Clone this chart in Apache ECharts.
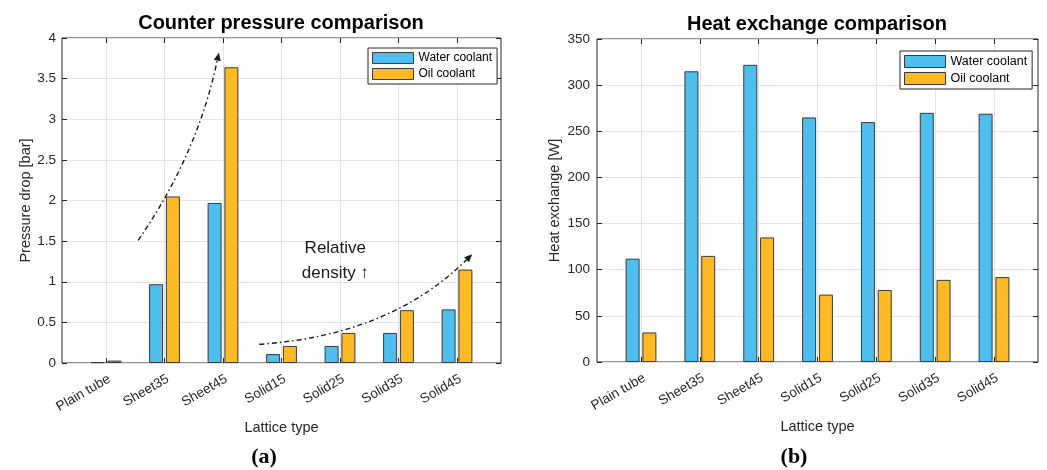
<!DOCTYPE html>
<html><head><meta charset="utf-8">
<script src="https://cdn.jsdelivr.net/npm/echarts@6/dist/echarts.min.js"></script>
<style>html,body{margin:0;padding:0;background:#fff}#c{width:1047px;height:470px}</style>
</head><body><div id="c"></div>
<script>
// ---- data ----
const categories = ['Plain tube', 'Sheet35', 'Sheet45', 'Solid15', 'Solid25', 'Solid35', 'Solid45'];
const seriesNames = ['Water coolant', 'Oil coolant'];
const pressureWater = [0.01, 0.97, 1.97, 0.11, 0.21, 0.37, 0.66];
const pressureOil = [0.03, 2.05, 3.64, 0.21, 0.37, 0.65, 1.15];
const heatWater = [112, 315, 322, 265, 260, 270, 269];
const heatOil = [32, 115, 135, 73, 78, 89, 92];
const pressureTicks = [0, 0.5, 1, 1.5, 2, 2.5, 3, 3.5, 4];
const heatTicks = [0, 50, 100, 150, 200, 250, 300, 350];
const titles = ['Counter pressure comparison', 'Heat exchange comparison'];
const panelLabels = ['(a)', '(b)'];
const yNames = ['Pressure drop [bar]', 'Heat exchange [W]'];
const xName = 'Lattice type';
const annotationText = ['Relative', 'density \u2191'];

// ---- style ----
const FONT = 'Liberation Sans, Arial, Helvetica, sans-serif';
const WATER = '#4DBEEE';
const OIL = '#FDBA24';
const EDGE = '#3a3a3a';
const AX = '#262626';
const GRIDC = '#e3e3e3';

const chart = echarts.init(document.getElementById('c'), null, {renderer: 'canvas'});

function panel(k, box, bars, ticks) {
  const xi = k * 3, yi = k * 3, gi = k * 2;
  const tmin = ticks[0], tmax = ticks[ticks.length - 1], step = ticks[1] - ticks[0];
  return {
    grids: [
      Object.assign({show: true, borderColor: AX, borderWidth: 1, backgroundColor: 'transparent'}, box),
      Object.assign({show: false}, bars)
    ],
    xAxes: [
      {gridIndex: gi, type: 'value', min: 0, max: 1, show: false},
      {gridIndex: gi + 1, type: 'value', min: 1, max: categories.length, interval: 1, position: 'bottom',
        axisLine: {show: false},
        axisTick: {show: true, inside: true, length: 5, lineStyle: {color: AX}},
        splitLine: {show: true, lineStyle: {color: GRIDC, width: 1}},
        axisLabel: {rotate: 30, margin: 9, verticalAlign: 'top', fontSize: 13.5, color: AX, fontFamily: FONT,
          formatter: v => categories[Math.round(v) - 1] || ''},
        name: xName, nameLocation: 'middle', nameGap: 57,
        nameTextStyle: {fontSize: 14.5, color: AX, fontFamily: FONT}},
      {gridIndex: gi + 1, type: 'value', min: 1, max: categories.length, interval: 1, position: 'top',
        axisLine: {show: false}, axisLabel: {show: false}, splitLine: {show: false},
        axisTick: {show: true, inside: true, length: 5, lineStyle: {color: AX}}}
    ],
    yAxes: [
      {gridIndex: gi, type: 'value', min: tmin, max: tmax, interval: step, position: 'left',
        axisLine: {show: false},
        axisTick: {show: true, inside: true, length: 5, lineStyle: {color: AX}},
        splitLine: {show: true, lineStyle: {color: GRIDC, width: 1}},
        axisLabel: {fontSize: 13.5, color: AX, fontFamily: FONT, margin: k === 0 ? 6 : 7},
        name: yNames[k], nameLocation: 'middle', nameGap: k === 0 ? 29 : 35,
        nameTextStyle: {fontSize: 14.5, color: AX, fontFamily: FONT}},
      {gridIndex: gi, type: 'value', min: tmin, max: tmax, interval: step, position: 'right',
        axisLine: {show: false}, axisLabel: {show: false}, splitLine: {show: false},
        axisTick: {show: true, inside: true, length: 5, lineStyle: {color: AX}}},
      {gridIndex: gi + 1, type: 'value', min: tmin, max: tmax, show: false}
    ],
    xIdx: xi + 1, yIdx: yi + 2
  };
}

const p0 = panel(0, {left: 62, top: 38, width: 439, height: 325}, {left: 106, top: 38, width: 351, height: 325}, pressureTicks);
const p1 = panel(1, {left: 597, top: 39, width: 441, height: 323}, {left: 641, top: 39, width: 353, height: 323}, heatTicks);

function barSeries(name, vals, color, p) {
  return {
    type: 'bar', name: name, xAxisIndex: p.xIdx, yAxisIndex: p.yIdx,
    data: vals.map((v, i) => [i + 1, v]),
    barWidth: 14, barGap: '20%', clip: false,
    itemStyle: {color: color, borderColor: EDGE, borderWidth: 1},
    z: 5
  };
}

function legendAt(left, top, ih, fs) {
  return {
    left: left, top: top, orient: 'vertical', data: seriesNames, icon: 'rect',
    itemWidth: 41, itemHeight: ih, itemGap: 4, padding: [4, 5, 4, 4],
    backgroundColor: '#fff', borderColor: AX, borderWidth: 1, borderRadius: 0,
    selectedMode: false,
    itemStyle: {borderColor: EDGE, borderWidth: 1},
    textStyle: {fontSize: fs, color: '#000', fontFamily: FONT}
  };
}

const option = {
  animation: false,
  backgroundColor: '#fff',
  title: [
    {text: titles[0], left: 281, top: 13, textAlign: 'center', padding: 0,
      textStyle: {fontSize: 20, fontWeight: 'bold', color: '#000', fontFamily: FONT}},
    {text: titles[1], left: 817, top: 14, textAlign: 'center', padding: 0,
      textStyle: {fontSize: 20, fontWeight: 'bold', color: '#000', fontFamily: FONT}},
    {text: panelLabels[0], left: 264, top: 446, textAlign: 'center', padding: 0,
      textStyle: {fontSize: 22, fontWeight: 'bold', color: '#000', fontFamily: 'Liberation Serif, DejaVu Serif, serif'}},
    {text: panelLabels[1], left: 794, top: 446, textAlign: 'center', padding: 0,
      textStyle: {fontSize: 22, fontWeight: 'bold', color: '#000', fontFamily: 'Liberation Serif, DejaVu Serif, serif'}}
  ],
  legend: [legendAt(368, 48, 11, 12), legendAt(900, 51, 12, 12.5)],
  grid: p0.grids.concat(p1.grids),
  xAxis: p0.xAxes.concat(p1.xAxes),
  yAxis: p0.yAxes.concat(p1.yAxes),
  series: [
    barSeries(seriesNames[0], pressureWater, WATER, p0),
    barSeries(seriesNames[1], pressureOil, OIL, p0),
    barSeries(seriesNames[0], heatWater, WATER, p1),
    barSeries(seriesNames[1], heatOil, OIL, p1)
  ]
};
chart.setOption(option);

// ---- annotations (in data units of the left panel: [category position, pressure]) ----
const arrowSheet = {start: [1.55, 1.51], ctrl: [2.56, 2.56], end: [2.93, 3.82]};
const arrowSolid = {start: [3.62, 0.23], ctrl: [5.86, 0.34], end: [7.26, 1.34]};
const textPos = [[4.92, 1.41], [4.92, 1.10]];
const finder = {xAxisIndex: p0.xIdx, yAxisIndex: p0.yIdx};
const px = v => chart.convertToPixel(finder, v);

function arrow(a) {
  const s = px(a.start), c = px(a.ctrl), e = px(a.end);
  let dx = e[0] - c[0], dy = e[1] - c[1];
  const L = Math.hypot(dx, dy); dx /= L; dy /= L;
  const nx = -dy, ny = dx;
  const hl = 8, hw = 3.5;
  const bx = e[0] - dx * hl, by = e[1] - dy * hl;
  return [
    {type: 'bezierCurve', z: 20, silent: true,
      shape: {x1: s[0], y1: s[1], cpx1: c[0], cpy1: c[1], x2: bx, y2: by},
      style: {stroke: '#1a1a1a', lineWidth: 1.4, fill: null, lineDash: [5, 3, 1.5, 3]}},
    {type: 'polygon', z: 20, silent: true,
      shape: {points: [[e[0], e[1]], [bx + nx * hw, by + ny * hw], [bx - nx * hw, by - ny * hw]]},
      style: {fill: '#1a1a1a', stroke: null}}
  ];
}
const graphics = arrow(arrowSheet).concat(arrow(arrowSolid));
textPos.forEach((tp, i) => {
  const p = px(tp);
  graphics.push({type: 'text', z: 20, silent: true, x: p[0], y: p[1],
    style: {text: annotationText[i], fill: '#1a1a1a', font: '17px ' + FONT, align: 'center', verticalAlign: 'middle'}});
});
chart.setOption({graphic: graphics});
</script>
</body></html>
